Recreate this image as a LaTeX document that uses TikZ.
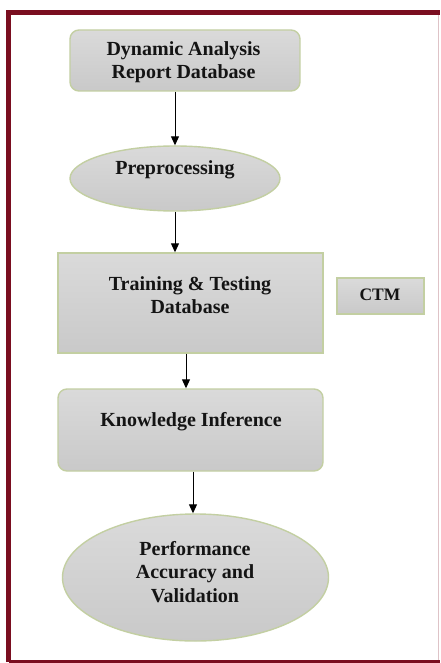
\documentclass[tikz,border=0pt]{standalone}
\usepackage{fontspec}
\setmainfont{Liberation Serif}
\usetikzlibrary{arrows.meta,shapes.geometric}
\definecolor{frameRed}{HTML}{7A0E20}
\definecolor{edgeGreen}{HTML}{C3CFA2}
\definecolor{fillTop}{HTML}{DADADA}
\definecolor{fillBot}{HTML}{C9C9C9}
\begin{document}
\begin{tikzpicture}[x=1pt,y=-1pt,
  panel/.style={draw=edgeGreen,line width=1.4pt,top color=fillTop,bottom color=fillBot,inner sep=0pt},
  roundpanel/.style={panel,rounded corners=9pt},
  ovalpanel/.style={panel,ellipse},
  caption/.style={font=\fontsize{20}{23.5}\selectfont\bfseries,align=center,text=black!92,inner sep=0pt},
  flow/.style={line width=1pt,-{Triangle[length=9pt,width=8pt]}}]
\useasboundingbox (0,0) rectangle (440,663);
\fill[white] (0,0) rectangle (440,663);
% outer frame
\draw[frameRed!25,line width=1pt] (438.5,12) -- (438.5,662);
\draw[frameRed,line width=5.5pt] (8.5,662) -- (8.5,12.5) -- (440,12.5);
\draw[frameRed,line width=3pt] (8.5,661.5) -- (440,661.5);

% shapes
\node[roundpanel,minimum width=230pt,minimum height=61pt] (dar) at (185,60.5) {};
\node[ovalpanel,minimum width=210pt,minimum height=65pt] (pre) at (175,178.5) {};
\node[panel,minimum width=265pt,minimum height=100pt] (ttd) at (190.5,303) {};
\node[panel,minimum width=87pt,minimum height=36pt] (ctm) at (380.5,296) {};
\node[roundpanel,minimum width=265pt,minimum height=82pt] (ki) at (190.5,430) {};
\node[ovalpanel,minimum width=266pt,minimum height=127pt] (pav) at (195.5,577.5) {};

% labels
\node[caption] (darT) at (183.5,62) {Dynamic Analysis\\Report Database};
\node[caption] (preT) at (175,170) {Preprocessing};
\node[caption] (ttdT) at (190,295) {Training \& Testing\\Database};
\node[caption,font=\fontsize{17.5}{20}\selectfont\bfseries] (ctmT) at (380,295) {CTM};
\node[caption] (kiT) at (191,422) {Knowledge Inference};
\node[caption] (pavT) at (195,572) {Performance\\Accuracy and\\Validation};

% connectors
\draw[flow] (pre.north |- dar.south) -- (pre.north);
\draw[flow] (pre.south) -- (pre.south |- ttd.north);
\draw[flow] ([xshift=-4.5pt]ttd.south) -- ([xshift=-4.5pt]ki.north);
\draw[flow] ([xshift=2.5pt]ki.south) -- ([xshift=-2.5pt]pav.north);
\end{tikzpicture}
\end{document}
